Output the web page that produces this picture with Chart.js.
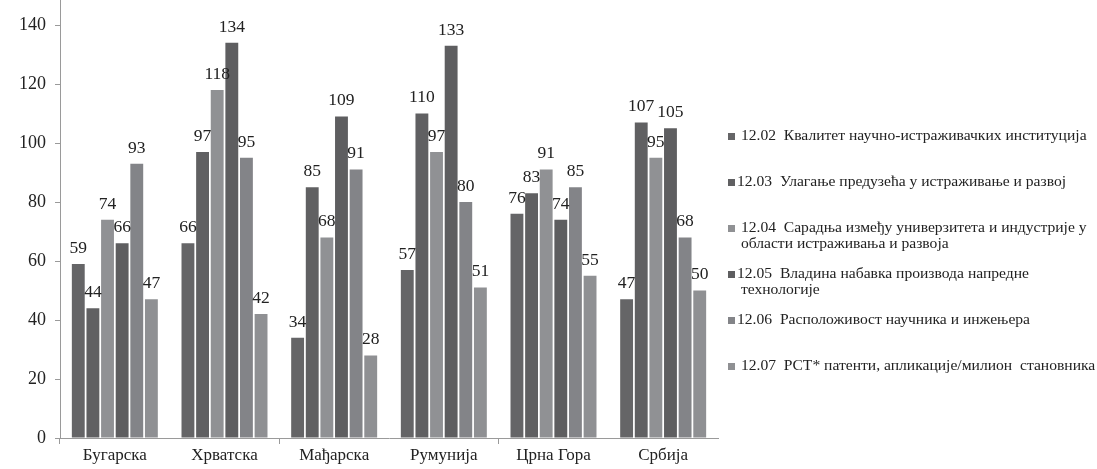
<!DOCTYPE html>
<html>
<head>
<meta charset="utf-8">
<script src="https://cdn.jsdelivr.net/npm/chart.js@4"></script>
<style>
  html, body { margin: 0; padding: 0; background: #fff; }
  #wrap { position: relative; width: 1097px; height: 469px; }
  #legend { position: absolute; left: 727px; top: 127px; font-family: "Liberation Serif", serif; font-size: 15.6px; color: #222; }
  .item { position: relative; height: 46px; }
  .sw { position: absolute; left: 1px; top: 6px; width: 7px; height: 7px; }
  .txt { position: absolute; left: 10px; top: 0; line-height: 16px; white-space: nowrap; }
</style>
</head>
<body>
<div id="wrap">
  <canvas id="c" width="1097" height="469"></canvas>
  <div id="legend"></div>
</div>
<script>
  const countries = ['Бугарска', 'Хрватска', 'Мађарска', 'Румунија', 'Црна Гора', 'Србија'];
  const seriesNames = [
    [' 12.02  Квалитет научно-истраживачких институција'],
    ['12.03  Улагање предузећа у истраживање и развој'],
    [' 12.04  Сарадња између универзитета и индустрије у', ' области истраживања и развоја'],
    ['12.05  Владина набавка производа напредне', ' технологије'],
    ['12.06  Расположивост научника и инжењера'],
    [' 12.07  PCT* патенти, апликације/милион  становника'],
  ];
  const s1202 = [59, 66, 34, 57, 76, 47];
  const s1203 = [44, 97, 85, 110, 83, 107];
  const s1204 = [74, 118, 68, 97, 91, 95];
  const s1205 = [66, 134, 109, 133, 74, 105];
  const s1206 = [93, 95, 91, 80, 85, 68];
  const s1207 = [47, 42, 28, 51, 55, 50];
  const yTicks = [0, 20, 40, 60, 80, 100, 120, 140];

  const colors = ['#656567', '#606062', '#909194', '#5e5e60', '#838488', '#8f9093'];
  const values = [s1202, s1203, s1204, s1205, s1206, s1207];

  const serif = '"Liberation Serif", "DejaVu Serif", serif';

  const valueLabels = {
    id: 'valueLabels',
    afterDatasetsDraw(chart) {
      const { ctx } = chart;
      ctx.save();
      ctx.font = `17.5px ${serif}`;
      ctx.fillStyle = '#222';
      ctx.textAlign = 'center';
      ctx.textBaseline = 'bottom';
      chart.data.datasets.forEach((ds, di) => {
        chart.getDatasetMeta(di).data.forEach((bar, i) => {
          ctx.fillText(String(ds.data[i]), bar.x, bar.y - 7);
        });
      });
      ctx.restore();
    }
  };

  const chart = new Chart(document.getElementById('c'), {
    type: 'bar',
    data: {
      labels: countries,
      datasets: values.map((v, i) => ({
        label: seriesNames[i].join(' '),
        data: v,
        backgroundColor: colors[i],
        borderWidth: 0,
        barPercentage: 0.88,
        categoryPercentage: 0.8
      }))
    },
    options: {
      responsive: false,
      animation: false,
      layout: { padding: { left: 0, right: 379, top: 0, bottom: 0 } },
      plugins: { legend: { display: false }, tooltip: { enabled: false } },
      scales: {
        x: {
          grid: {
            offset: true,
            drawOnChartArea: false,
            tickLength: 6,
            tickColor: (c) => (c.index % 2 === 0 ? '#9a9a9a' : 'rgba(0,0,0,0)')
          },
          border: { color: '#9a9a9a' },
          ticks: { color: '#222', font: { family: serif, size: 17 }, padding: 1 },
          afterFit(s) { s.height = 31; }
        },
        y: {
          min: 0,
          max: 148.5,
          afterBuildTicks(s) { s.ticks = yTicks.map(v => ({ value: v })); },
          grid: { drawOnChartArea: false, tickLength: 5, tickColor: '#9a9a9a' },
          border: { color: '#9a9a9a' },
          ticks: { color: '#222', font: { family: serif, size: 18 }, padding: 9 },
          afterFit(s) { s.width = 60; s.paddingTop = 0; }
        }
      }
    },
    plugins: [valueLabels, {
      id: 'noTopPad',
      afterLayout(chart) {
        // pull the plot area up to the canvas top like the source image
        if (chart.chartArea.top > 0 && !chart.$fixed) {
          chart.$fixed = true;
          chart.options.layout.padding.top = -chart.chartArea.top;
          chart.update();
        }
      }
    }]
  });

  const legend = document.getElementById('legend');
  seriesNames.forEach((lines, i) => {
    const item = document.createElement('div');
    item.className = 'item';
    const sw = document.createElement('div');
    sw.className = 'sw';
    sw.style.background = colors[i];
    const txt = document.createElement('div');
    txt.className = 'txt';
    txt.innerHTML = lines.map(l => l.replace(/ /g, '&nbsp;')).join('<br>');
    item.appendChild(sw);
    item.appendChild(txt);
    legend.appendChild(item);
  });
</script>
</body>
</html>
